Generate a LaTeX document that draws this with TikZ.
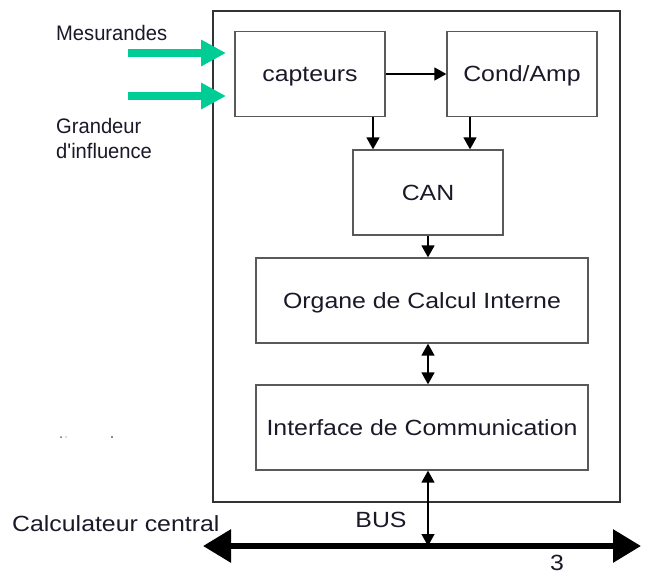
\documentclass[tikz,border=0pt]{standalone}
\usepackage{fontspec}
\setmainfont[FakeStretch=1.13]{Liberation Sans}
\newfontfamily\lblfont[FakeStretch=0.96]{Liberation Sans}
\usetikzlibrary{arrows.meta}
\definecolor{mgreen}{RGB}{0,204,150}
\definecolor{txtc}{RGB}{25,25,40}
\tikzset{
  blk/.style={draw=black!65, line width=1.3pt, minimum height=85pt, text=txtc,
    font=\fontsize{22}{26}\selectfont, inner sep=0pt, text height=15.7pt, text depth=0pt},
  arr/.style={line width=1.5pt, -{Triangle[length=12pt,width=13pt]}},
  darr/.style={line width=1.5pt, {Triangle[length=12pt,width=13pt]}-{Triangle[length=12pt,width=13pt]}},
  garr/.style={mgreen, line width=8pt, -{Triangle[length=25pt,width=25pt]}},
  lbl/.style={text=txtc, font=\lblfont\fontsize{21}{24}\selectfont, inner sep=0pt},
  mtxt/.style={text=txtc, font=\fontsize{22}{26}\selectfont, inner sep=0pt}
}
\begin{document}
\begin{tikzpicture}[x=1pt,y=-1pt]
\useasboundingbox (0,0) rectangle (648,576);
% outer frame
\node[draw=black!80, line width=1.6pt, minimum width=407pt, minimum height=491pt, inner sep=0pt] (outer) at (416.5,256.5) {};
% blocks
\node[blk, minimum width=150pt] (cap) at (310,74) {capteurs};
\node[blk, minimum width=150pt] (cond) at (522,74) {Cond/Amp};
\node[blk, minimum width=150pt] (can) at (428,192.5) {CAN};
\node[blk, minimum width=332pt] (org) at (422,300.5) {Organe de Calcul Interne};
\node[blk, minimum width=332pt] (intf) at (422,427.5) {Interface de Communication};
% connectors
\draw[arr] (cap.east) -- (cond.west);
\draw[arr] ([xshift=63]cap.south) -- ([xshift=63]cap.south |- can.north);
\draw[arr] ([xshift=-52]cond.south) -- ([xshift=-52]cond.south |- can.north);
\draw[arr] (can.south) -- (can.south |- org.north);
\draw[darr] ([xshift=6]org.south) -- ([xshift=6]intf.north);
% bus
\coordinate (busL) at (203,546);
\coordinate (busR) at (641,546);
\coordinate (busJ) at (428,546);
\draw[line width=6pt, {Triangle[length=28pt,width=32pt]}-{Triangle[length=28pt,width=32pt]}] (busL) -- (busR);
\draw[darr] ([xshift=6]intf.south) -- (busJ);
% green inputs
\coordinate (g1s) at (128,53);
\coordinate (g1e) at (226,53);
\coordinate (g2s) at (128,96);
\coordinate (g2e) at (226,96);
\draw[garr] (g1s) -- (g1e);
\draw[garr] (g2s) -- (g2e);
% labels
\node[lbl, anchor=west] (mes) at (56,33) {Mesurandes};
\node[lbl, anchor=north west, align=left] (gra) at (56,118) {Grandeur\\[1pt]d'influence};
\node[mtxt, anchor=west] (calc) at (12,524) {Calculateur central};
\node[mtxt] (bus) at (381,520) {BUS};
\node[mtxt] (three) at (557,563) {3};
% small dots
\fill[black!60] (61,437) circle (1pt);
\fill[black!60] (66,437) circle (0.7pt);
\fill[black!60] (112,437) circle (1.1pt);
\end{tikzpicture}
\end{document}
